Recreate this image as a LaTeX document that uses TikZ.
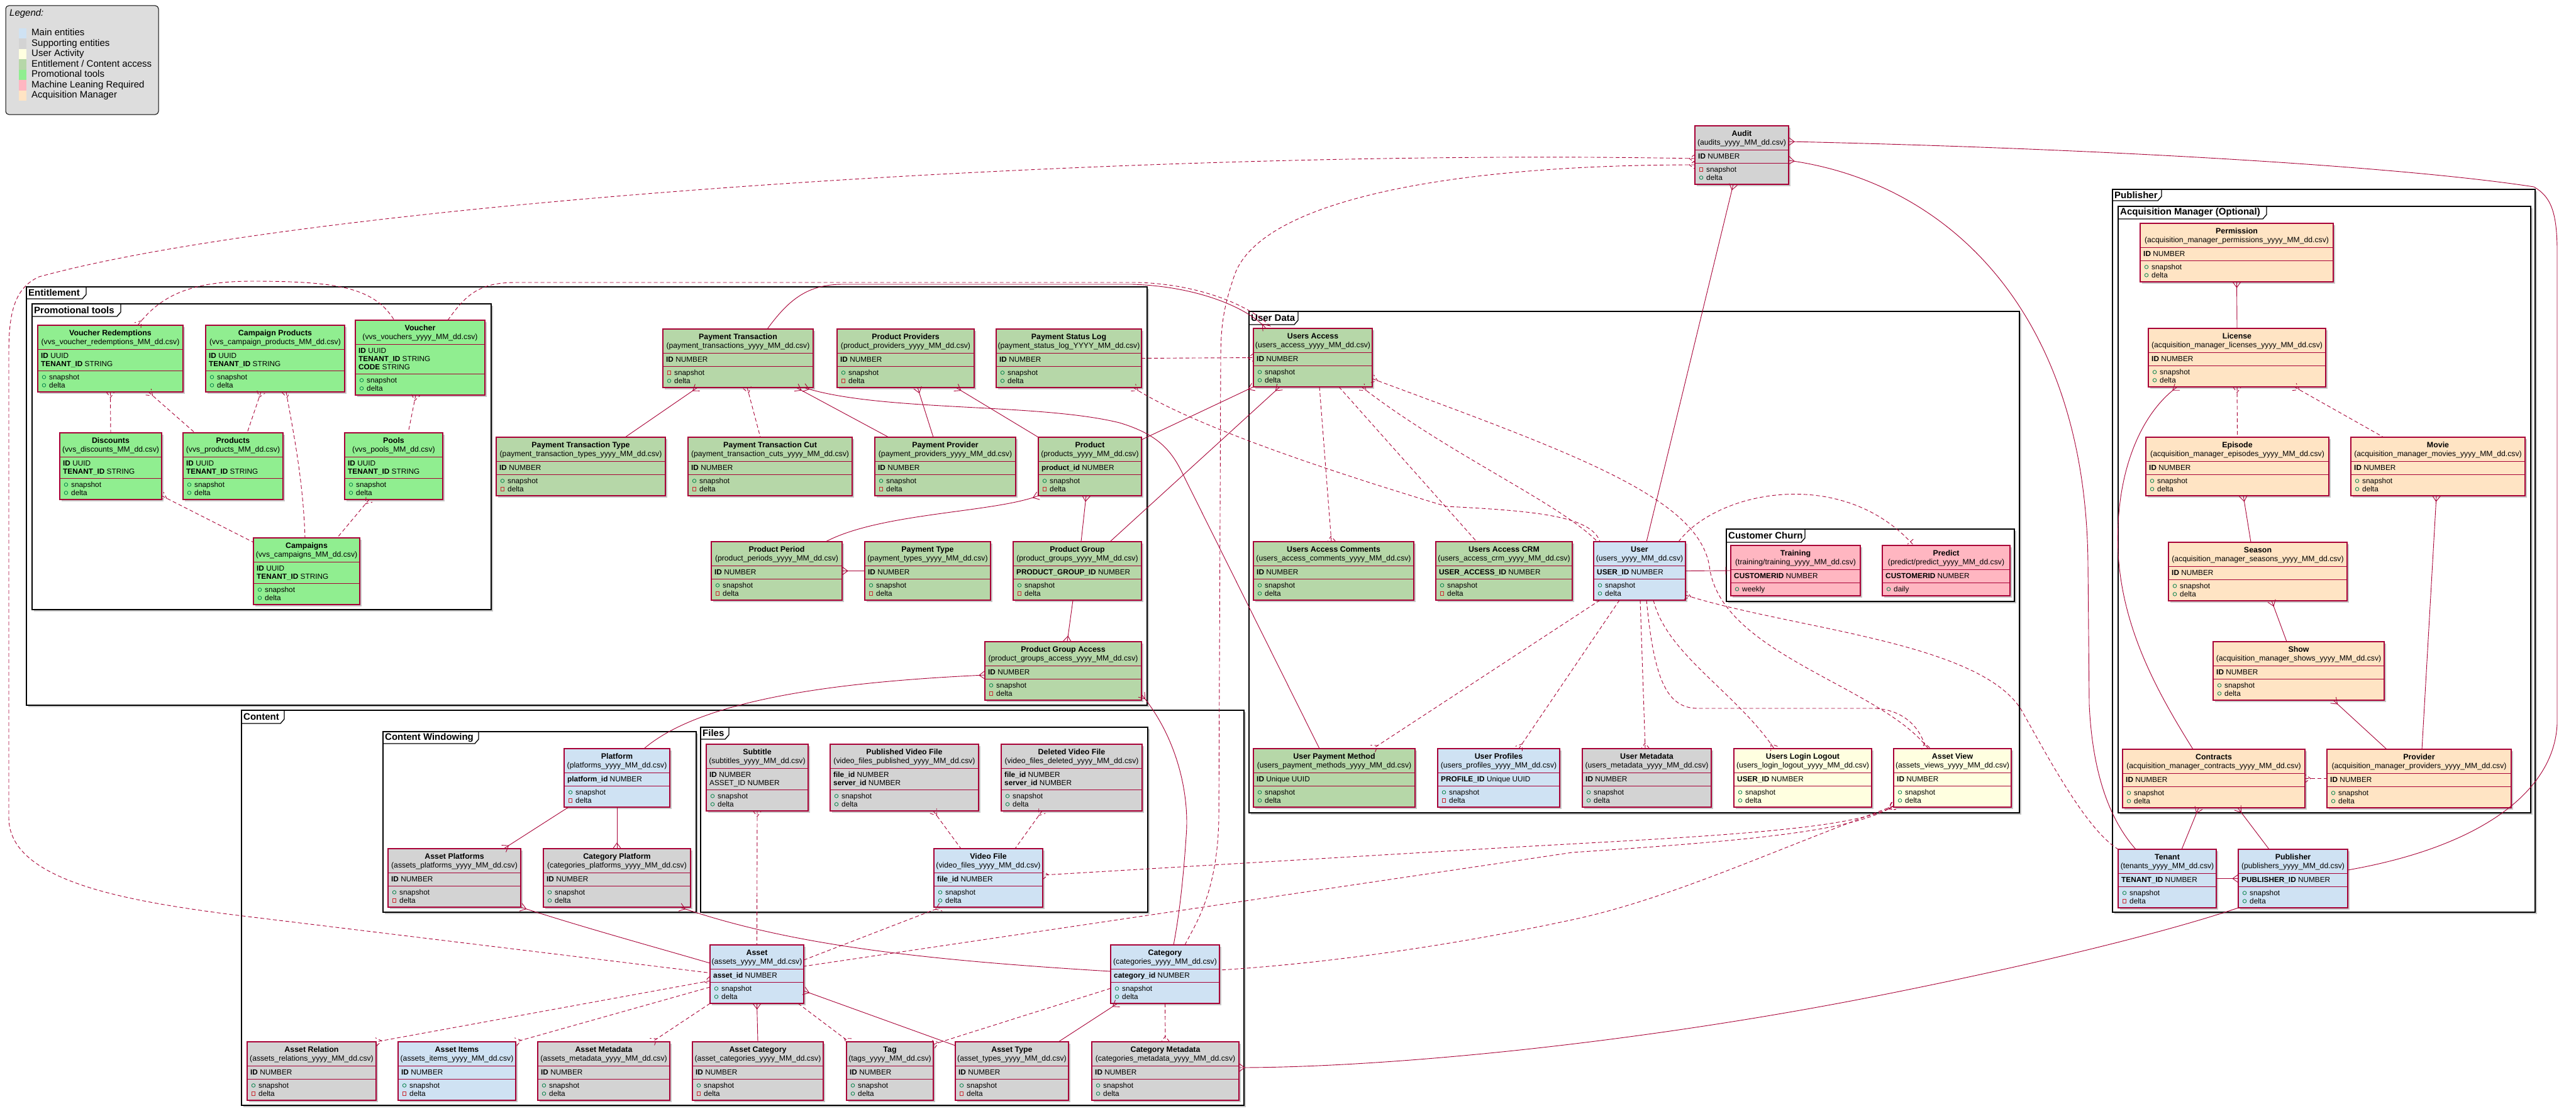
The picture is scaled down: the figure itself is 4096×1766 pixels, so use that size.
\documentclass[tikz,border=0pt]{standalone}
\usepackage{fontspec}
\setmainfont{Liberation Sans}
\usetikzlibrary{arrows.meta,shadows}

\definecolor{crim}{HTML}{A80036}
\definecolor{mainb}{HTML}{CFE2F3}
\definecolor{supg}{HTML}{D3D3D3}
\definecolor{usery}{HTML}{FFFFE0}
\definecolor{entg}{HTML}{B6D7A8}
\definecolor{promo}{HTML}{90EE90}
\definecolor{mlp}{HTML}{FFB6C1}
\definecolor{acqb}{HTML}{FFE4C4}
\definecolor{icg}{HTML}{038048}
\definecolor{icr}{HTML}{C82930}
\definecolor{leggray}{HTML}{DDDDDD}

\newcommand\entTitleFont{\fontsize{12.4}{14}\selectfont\bfseries}
\newcommand\entSubFont{\fontsize{12.2}{14}\selectfont}
\newcommand\entRowFont{\fontsize{11.8}{13}\selectfont}
\newcommand\frameFont{\fontsize{15}{18}\selectfont\bfseries}
\newcommand\legFont{\fontsize{15}{18}\selectfont}

\pgfdeclarearrow{
  name = Crow,
  setup code = {
    \pgfarrowssettipend{0pt}
    \pgfarrowssetlineend{0pt}
    \pgfarrowssetbackend{-9pt}
    \pgfarrowshullpoint{0pt}{6.5pt}
    \pgfarrowshullpoint{0pt}{-6.5pt}
    \pgfarrowshullpoint{-9pt}{0pt}
  },
  drawing code = {
    \pgfpathmoveto{\pgfqpoint{0pt}{6.5pt}}
    \pgfpathlineto{\pgfqpoint{-9pt}{0pt}}
    \pgfpathlineto{\pgfqpoint{0pt}{-6.5pt}}
    \pgfusepathqstroke
  }
}
\pgfdeclarearrow{
  name = One,
  setup code = {
    \pgfarrowssettipend{0pt}
    \pgfarrowssetlineend{0pt}
    \pgfarrowssetbackend{-9pt}
    \pgfarrowshullpoint{0pt}{6pt}
    \pgfarrowshullpoint{-9pt}{-6pt}
  },
  drawing code = {
    \pgfpathmoveto{\pgfqpoint{-8pt}{6pt}}
    \pgfpathlineto{\pgfqpoint{-8pt}{-6pt}}
    \pgfusepathqstroke
  }
}

\tikzset{
  ebox/.style={draw=crim, line width=1.3pt, inner sep=0pt, outer sep=0pt, rectangle,
    drop shadow={shadow xshift=3pt, shadow yshift=-3pt, opacity=0.3, fill=black!70}},
  eline/.style={draw=crim, line width=1pt},
  etitle/.style={inner sep=0pt, font=\entTitleFont},
  esub/.style={inner sep=0pt, font=\entSubFont},
  erow/.style={inner sep=0pt, font=\entRowFont},
  conn/.style={draw=crim, line width=0.9pt},
  connd/.style={conn, dash pattern=on 6pt off 4pt},
  frm/.style={draw=black, line width=1.6pt, fill=white,
    drop shadow={shadow xshift=3pt, shadow yshift=-3pt, opacity=0.3, fill=black!70}},
  ftab/.style={draw=black, line width=1.3pt},
  flabel/.style={inner sep=0pt, font=\frameFont},
  leg/.style={inner sep=0pt, font=\legFont, text height=11pt, text depth=3pt}
}

% entity: name, fill, x, y, width, #keys, #methods, title, subtitle
\newcommand\ent[9]{%
  \pgfmathsetmacro\entH{54+13*(#6+#7)}%
  \pgfmathsetmacro\entD{-(46+13*#6)}%
  \node[ebox,fill=#2,minimum width=#5pt,minimum height=\entH pt,anchor=north west] (#1) at (#3,#4) {};
  \draw[eline] ([yshift=-38pt]#1.north west) -- ([yshift=-38pt]#1.north east);
  \draw[eline] ([yshift=\entD pt]#1.north west) -- ([yshift=\entD pt]#1.north east);
  \node[etitle,anchor=base] (#1-t) at ([yshift=-16.5pt]#1.north) {#8};
  \node[esub,anchor=base] (#1-s) at ([yshift=-30.5pt]#1.north) {#9};
}
\newcommand\keyl[3]{%
  \pgfmathsetmacro\keyY{-(52+13*(#2-1))}%
  \node[erow,anchor=base west] (#1-k#2) at ([xshift=5pt,yshift=\keyY pt]#1.north west) {#3};
}
\newcommand\metO[3]{%
  \pgfmathsetmacro\metY{7+13*#2}%
  \pgfmathsetmacro\metYi{\metY+3.6}%
  \draw[icg,line width=0.8pt] ([xshift=10pt,yshift=\metYi pt]#1.south west) circle[radius=2.8pt];
  \node[erow,anchor=base west] (#1-m#2) at ([xshift=18pt,yshift=\metY pt]#1.south west) {#3};
}
\newcommand\metS[3]{%
  \pgfmathsetmacro\metY{7+13*#2}%
  \pgfmathsetmacro\metYa{\metY+1}%
  \pgfmathsetmacro\metYb{\metY+6.2}%
  \draw[icr,line width=0.8pt] ([xshift=7.4pt,yshift=\metYa pt]#1.south west) rectangle ([xshift=12.6pt,yshift=\metYb pt]#1.south west);
  \node[erow,anchor=base west] (#1-m#2) at ([xshift=18pt,yshift=\metY pt]#1.south west) {#3};
}
\newcommand\sd[3]{\csname met#2\endcsname{#1}{1}{snapshot}\csname met#3\endcsname{#1}{0}{delta}}

% frame: name, x1, y1, x2, y2, tab w, tab h, label
\newcommand\frameBox[8]{%
  \path[frm] (#2,#3) rectangle (#4,#5);
  \draw[ftab] (#2,#3+#7) -- (#2+#6-6,#3+#7) -- (#2+#6,#3+#7-7) -- (#2+#6,#3);
  \node[flabel,anchor=west] (#1) at (#2+3,#3+#7/2) {#8};
}

\begin{document}
\begin{tikzpicture}[x=1pt,y=-1pt]
\useasboundingbox (0,0) rectangle (4096,1766);
\fill[white] (0,0) rectangle (4096,1766);

% ---------------- Legend
\draw[black,line width=1pt,fill=leggray,rounded corners=5pt] (9,9) rectangle (252,182);
\node[leg,anchor=west,font=\legFont\itshape] (legT) at (15,22) {Legend:};
\fill[mainb]  (30,44.7)  rectangle (42,61.2);
\fill[supg]   (30,61.2)  rectangle (42,77.7);
\fill[usery]  (30,77.7)  rectangle (42,94.2);
\fill[entg]   (30,94.2)  rectangle (42,110.7);
\fill[promo]  (30,110.7) rectangle (42,127.2);
\fill[mlp]    (30,127.2) rectangle (42,143.7);
\fill[acqb]   (30,143.7) rectangle (42,160.2);
\node[leg,anchor=west] (lg1) at (50,53)    {Main entities};
\node[leg,anchor=west] (lg2) at (50,69.5)  {Supporting entities};
\node[leg,anchor=west] (lg3) at (50,86)    {User Activity};
\node[leg,anchor=west] (lg4) at (50,102.5) {Entitlement / Content access};
\node[leg,anchor=west] (lg5) at (50,119)   {Promotional tools};
\node[leg,anchor=west] (lg6) at (50,135.5) {Machine Leaning Required};
\node[leg,anchor=west] (lg7) at (50,152)   {Acquisition Manager};

% ---------------- Frames
\frameBox{fEnt}{42}{456}{1824}{1121}{95}{19}{Entitlement}
\frameBox{fPromo}{51}{483}{781}{969}{141}{20}{Promotional tools}
\frameBox{fUser}{1986}{495}{3211}{1292}{78}{21}{User Data}
\frameBox{fChurn}{2745}{841}{3203}{956}{125}{21}{Customer Churn}
\frameBox{fPub}{3359}{301}{4031}{1450}{78}{18}{Publisher}
\frameBox{fAcq}{3368}{328}{4024}{1292}{236}{20}{Acquisition Manager (Optional)}
\frameBox{fCont}{384}{1129}{1978}{1757}{68}{21}{Content}
\frameBox{fWin}{609}{1163}{1107}{1450}{152}{19}{Content Windowing}
\frameBox{fFiles}{1114}{1156}{1825}{1450}{45}{19}{Files}

% ---------------- Promotional tools
\ent{vr}{promo}{60}{517}{231}{2}{2}{Voucher Redemptions}{(vvs\_voucher\_redemptions\_MM\_dd.csv)}
\keyl{vr}{1}{\textbf{ID} UUID}\keyl{vr}{2}{\textbf{TENANT\_ID} STRING}\sd{vr}{O}{O}
\ent{cp}{promo}{327}{517}{221}{2}{2}{Campaign Products}{(vvs\_campaign\_products\_MM\_dd.csv)}
\keyl{cp}{1}{\textbf{ID} UUID}\keyl{cp}{2}{\textbf{TENANT\_ID} STRING}\sd{cp}{O}{O}
\ent{vo}{promo}{565}{509}{206}{3}{2}{Voucher}{(vvs\_vouchers\_yyyy\_MM\_dd.csv)}
\keyl{vo}{1}{\textbf{ID} UUID}\keyl{vo}{2}{\textbf{TENANT\_ID} STRING}\keyl{vo}{3}{\textbf{CODE} STRING}\sd{vo}{O}{O}
\ent{di}{promo}{95}{688}{162}{2}{2}{Discounts}{(vvs\_discounts\_MM\_dd.csv)}
\keyl{di}{1}{\textbf{ID} UUID}\keyl{di}{2}{\textbf{TENANT\_ID} STRING}\sd{di}{O}{O}
\ent{pr}{promo}{291}{688}{159}{2}{2}{Products}{(vvs\_products\_MM\_dd.csv)}
\keyl{pr}{1}{\textbf{ID} UUID}\keyl{pr}{2}{\textbf{TENANT\_ID} STRING}\sd{pr}{O}{O}
\ent{po}{promo}{548}{688}{156}{2}{2}{Pools}{(vvs\_pools\_MM\_dd.csv)}
\keyl{po}{1}{\textbf{ID} UUID}\keyl{po}{2}{\textbf{TENANT\_ID} STRING}\sd{po}{O}{O}
\ent{ca}{promo}{403}{855}{169}{2}{2}{Campaigns}{(vvs\_campaigns\_MM\_dd.csv)}
\keyl{ca}{1}{\textbf{ID} UUID}\keyl{ca}{2}{\textbf{TENANT\_ID} STRING}\sd{ca}{O}{O}

% ---------------- Entitlement
\ent{ptx}{entg}{1054}{523}{239}{1}{2}{Payment Transaction}{(payment\_transactions\_yyyy\_MM\_dd.csv)}
\keyl{ptx}{1}{\textbf{ID} NUMBER}\sd{ptx}{S}{O}
\ent{pps}{entg}{1331}{523}{218}{1}{2}{Product Providers}{(product\_providers\_yyyy\_MM\_dd.csv)}
\keyl{pps}{1}{\textbf{ID} NUMBER}\sd{pps}{O}{S}
\ent{psl}{entg}{1584}{523}{231}{1}{2}{Payment Status Log}{(payment\_status\_log\_YYYY\_MM\_dd.csv)}
\keyl{psl}{1}{\textbf{ID} NUMBER}\sd{psl}{O}{O}
\ent{ptt}{entg}{789}{695}{269}{1}{2}{Payment Transaction Type}{(payment\_transaction\_types\_yyyy\_MM\_dd.csv)}
\keyl{ptt}{1}{\textbf{ID} NUMBER}\sd{ptt}{O}{S}
\ent{ptc}{entg}{1094}{695}{261}{1}{2}{Payment Transaction Cut}{(payment\_transaction\_cuts\_yyyy\_MM\_dd.csv)}
\keyl{ptc}{1}{\textbf{ID} NUMBER}\sd{ptc}{O}{S}
\ent{ppv}{entg}{1391}{695}{224}{1}{2}{Payment Provider}{(payment\_providers\_yyyy\_MM\_dd.csv)}
\keyl{ppv}{1}{\textbf{ID} NUMBER}\sd{ppv}{O}{S}
\ent{prd}{entg}{1651}{695}{164}{1}{2}{Product}{(products\_yyyy\_MM\_dd.csv)}
\keyl{prd}{1}{\textbf{product\_id} NUMBER}\sd{prd}{O}{S}
\ent{ppe}{entg}{1131}{861}{208}{1}{2}{Product Period}{(product\_periods\_yyyy\_MM\_dd.csv)}
\keyl{ppe}{1}{\textbf{ID} NUMBER}\sd{ppe}{O}{S}
\ent{pty}{entg}{1375}{861}{200}{1}{2}{Payment Type}{(payment\_types\_yyyy\_MM\_dd.csv)}
\keyl{pty}{1}{\textbf{ID} NUMBER}\sd{pty}{O}{S}
\ent{pg}{entg}{1611}{861}{204}{1}{2}{Product Group}{(product\_groups\_yyyy\_MM\_dd.csv)}
\keyl{pg}{1}{\textbf{PRODUCT\_GROUP\_ID} NUMBER}\sd{pg}{O}{S}
\ent{pga}{entg}{1566}{1020}{249}{1}{2}{Product Group Access}{(product\_groups\_access\_yyyy\_MM\_dd.csv)}
\keyl{pga}{1}{\textbf{ID} NUMBER}\sd{pga}{O}{S}

% ---------------- Audit
\ent{au}{supg}{2695}{200}{149}{1}{2}{Audit}{(audits\_yyyy\_MM\_dd.csv)}
\keyl{au}{1}{\textbf{ID} NUMBER}\sd{au}{S}{O}

% ---------------- User Data
\ent{ua}{entg}{1993}{522}{189}{1}{2}{Users Access}{(users\_access\_yyyy\_MM\_dd.csv)}
\keyl{ua}{1}{\textbf{ID} NUMBER}\sd{ua}{O}{O}
\ent{uac}{entg}{1993}{861}{255}{1}{2}{Users Access Comments}{(users\_access\_comments\_yyyy\_MM\_dd.csv)}
\keyl{uac}{1}{\textbf{ID} NUMBER}\sd{uac}{O}{O}
\ent{uacrm}{entg}{2283}{861}{217}{1}{2}{Users Access CRM}{(users\_access\_crm\_yyyy\_MM\_dd.csv)}
\keyl{uacrm}{1}{\textbf{USER\_ACCESS\_ID} NUMBER}\sd{uacrm}{O}{S}
\ent{us}{mainb}{2534}{861}{146}{1}{2}{User}{(users\_yyyy\_MM\_dd.csv)}
\keyl{us}{1}{\textbf{USER\_ID} NUMBER}\sd{us}{O}{O}
\ent{tr}{mlp}{2752}{867}{206}{1}{1}{Training}{(training/training\_yyyy\_MM\_dd.csv)}
\keyl{tr}{1}{\textbf{CUSTOMERID} NUMBER}\metO{tr}{0}{weekly}
\ent{pd}{mlp}{2993}{867}{203}{1}{1}{Predict}{(predict/predict\_yyyy\_MM\_dd.csv)}
\keyl{pd}{1}{\textbf{CUSTOMERID} NUMBER}\metO{pd}{0}{daily}
\ent{upm}{entg}{1993}{1190}{257}{1}{2}{User Payment Method}{(users\_payment\_methods\_yyyy\_MM\_dd.csv)}
\keyl{upm}{1}{\textbf{ID} Unique UUID}\sd{upm}{O}{O}
\ent{upr}{mainb}{2286}{1190}{194}{1}{2}{User Profiles}{(users\_profiles\_yyyy\_MM\_dd.csv)}
\keyl{upr}{1}{\textbf{PROFILE\_ID} Unique UUID}\sd{upr}{O}{S}
\ent{umd}{supg}{2516}{1190}{205}{1}{2}{User Metadata}{(users\_metadata\_yyyy\_MM\_dd.csv)}
\keyl{umd}{1}{\textbf{ID} NUMBER}\sd{umd}{O}{O}
\ent{ull}{usery}{2757}{1190}{219}{1}{2}{Users Login Logout}{(users\_login\_logout\_yyyy\_MM\_dd.csv)}
\keyl{ull}{1}{\textbf{USER\_ID} NUMBER}\sd{ull}{O}{O}
\ent{av}{usery}{3011}{1190}{187}{1}{2}{Asset View}{(assets\_views\_yyyy\_MM\_dd.csv)}
\keyl{av}{1}{\textbf{ID} NUMBER}\sd{av}{O}{O}

% ---------------- Publisher
\ent{pm}{acqb}{3403}{355}{307}{1}{2}{Permission}{(acquisition\_manager\_permissions\_yyyy\_MM\_dd.csv)}
\keyl{pm}{1}{\textbf{ID} NUMBER}\sd{pm}{O}{O}
\ent{li}{acqb}{3416}{522}{282}{1}{2}{License}{(acquisition\_manager\_licenses\_yyyy\_MM\_dd.csv)}
\keyl{li}{1}{\textbf{ID} NUMBER}\sd{li}{O}{O}
\ent{ep}{acqb}{3412}{695}{291}{1}{2}{Episode}{(acquisition\_manager\_episodes\_yyyy\_MM\_dd.csv)}
\keyl{ep}{1}{\textbf{ID} NUMBER}\sd{ep}{O}{O}
\ent{mo}{acqb}{3738}{695}{277}{1}{2}{Movie}{(acquisition\_manager\_movies\_yyyy\_MM\_dd.csv)}
\keyl{mo}{1}{\textbf{ID} NUMBER}\sd{mo}{O}{O}
\ent{se}{acqb}{3448}{862}{284}{1}{2}{Season}{(acquisition\_manager\_seasons\_yyyy\_MM\_dd.csv)}
\keyl{se}{1}{\textbf{ID} NUMBER}\sd{se}{O}{O}
\ent{sh}{acqb}{3519}{1020}{272}{1}{2}{Show}{(acquisition\_manager\_shows\_yyyy\_MM\_dd.csv)}
\keyl{sh}{1}{\textbf{ID} NUMBER}\sd{sh}{O}{O}
\ent{con}{acqb}{3375}{1191}{290}{1}{2}{Contracts}{(acquisition\_manager\_contracts\_yyyy\_MM\_dd.csv)}
\keyl{con}{1}{\textbf{ID} NUMBER}\sd{con}{O}{O}
\ent{pv}{acqb}{3700}{1191}{293}{1}{2}{Provider}{(acquisition\_manager\_providers\_yyyy\_MM\_dd.csv)}
\keyl{pv}{1}{\textbf{ID} NUMBER}\sd{pv}{O}{O}
\ent{te}{mainb}{3368}{1350}{156}{1}{2}{Tenant}{(tenants\_yyyy\_MM\_dd.csv)}
\keyl{te}{1}{\textbf{TENANT\_ID} NUMBER}\sd{te}{O}{S}
\ent{pu}{mainb}{3559}{1350}{174}{1}{2}{Publisher}{(publishers\_yyyy\_MM\_dd.csv)}
\keyl{pu}{1}{\textbf{PUBLISHER\_ID} NUMBER}\sd{pu}{O}{O}

% ---------------- Content
\ent{pl}{mainb}{897}{1190}{168}{1}{2}{Platform}{(platforms\_yyyy\_MM\_dd.csv)}
\keyl{pl}{1}{\textbf{platform\_id} NUMBER}\sd{pl}{O}{S}
\ent{ap}{supg}{617}{1349}{211}{1}{2}{Asset Platforms}{(assets\_platforms\_yyyy\_MM\_dd.csv)}
\keyl{ap}{1}{\textbf{ID} NUMBER}\sd{ap}{O}{S}
\ent{cpl}{supg}{864}{1349}{234}{1}{2}{Category Platform}{(categories\_platforms\_yyyy\_MM\_dd.csv)}
\keyl{cpl}{1}{\textbf{ID} NUMBER}\sd{cpl}{O}{O}
\ent{st}{supg}{1123}{1183}{162}{2}{2}{Subtitle}{(subtitles\_yyyy\_MM\_dd.csv)}
\keyl{st}{1}{\textbf{ID} NUMBER}\keyl{st}{2}{ASSET\_ID NUMBER}\sd{st}{O}{O}
\ent{pvf}{supg}{1320}{1183}{236}{2}{2}{Published Video File}{(video\_files\_published\_yyyy\_MM\_dd.csv)}
\keyl{pvf}{1}{\textbf{file\_id} NUMBER}\keyl{pvf}{2}{\textbf{server\_id} NUMBER}\sd{pvf}{O}{O}
\ent{dvf}{supg}{1592}{1183}{224}{2}{2}{Deleted Video File}{(video\_files\_deleted\_yyyy\_MM\_dd.csv)}
\keyl{dvf}{1}{\textbf{file\_id} NUMBER}\keyl{dvf}{2}{\textbf{server\_id} NUMBER}\sd{dvf}{O}{O}
\ent{vf}{mainb}{1485}{1349}{173}{1}{2}{Video File}{(video\_files\_yyyy\_MM\_dd.csv)}
\keyl{vf}{1}{\textbf{file\_id} NUMBER}\sd{vf}{O}{O}
\ent{ast}{mainb}{1129}{1502}{149}{1}{2}{Asset}{(assets\_yyyy\_MM\_dd.csv)}
\keyl{ast}{1}{\textbf{asset\_id} NUMBER}\sd{ast}{O}{O}
\ent{cat}{mainb}{1766}{1502}{173}{1}{2}{Category}{(categories\_yyyy\_MM\_dd.csv)}
\keyl{cat}{1}{\textbf{category\_id} NUMBER}\sd{cat}{O}{O}
\ent{ar}{supg}{393}{1656}{205}{1}{2}{Asset Relation}{(assets\_relations\_yyyy\_MM\_dd.csv)}
\keyl{ar}{1}{\textbf{ID} NUMBER}\sd{ar}{O}{S}
\ent{ai}{mainb}{633}{1656}{187}{1}{2}{Asset Items}{(assets\_items\_yyyy\_MM\_dd.csv)}
\keyl{ai}{1}{\textbf{ID} NUMBER}\sd{ai}{O}{S}
\ent{am}{supg}{855}{1656}{210}{1}{2}{Asset Metadata}{(assets\_metadata\_yyyy\_MM\_dd.csv)}
\keyl{am}{1}{\textbf{ID} NUMBER}\sd{am}{O}{O}
\ent{acg}{supg}{1101}{1656}{208}{1}{2}{Asset Category}{(asset\_categories\_yyyy\_MM\_dd.csv)}
\keyl{acg}{1}{\textbf{ID} NUMBER}\sd{acg}{O}{S}
\ent{tg}{supg}{1346}{1656}{138}{1}{2}{Tag}{(tags\_yyyy\_MM\_dd.csv)}
\keyl{tg}{1}{\textbf{ID} NUMBER}\sd{tg}{O}{O}
\ent{aty}{supg}{1519}{1656}{180}{1}{2}{Asset Type}{(asset\_types\_yyyy\_MM\_dd.csv)}
\keyl{aty}{1}{\textbf{ID} NUMBER}\sd{aty}{O}{S}
\ent{cmd}{supg}{1736}{1656}{234}{1}{2}{Category Metadata}{(categories\_metadata\_yyyy\_MM\_dd.csv)}
\keyl{cmd}{1}{\textbf{ID} NUMBER}\sd{cmd}{O}{O}

% ================= Connectors
% promotional tools
\draw[connd,{Crow}-] (vr.south) -- (di.north);
\draw[connd,{Crow}-] ([xshift=176pt]vr.south west) -- ([xshift=19pt]pr.north west);
\draw[connd,{Crow}-] ([xshift=88pt]cp.south west) -- ([xshift=102pt]pr.north west);
\draw[connd,{Crow}-] ([xshift=128pt]cp.south west) .. controls (465,680) and (482,760) .. ([xshift=82pt]ca.north west);
\draw[connd,{Crow}-] ([xshift=96pt]vo.south west) -- ([xshift=101pt]po.north west);
\draw[connd,{Crow}-] ([xshift=39pt]po.south west) -- ([xshift=133pt]ca.north west);
\draw[connd,{Crow}-] ([yshift=6pt]di.south east) -- ([yshift=-7pt]ca.north west);
\draw[connd,{Crow}-] ([xshift=159pt]vr.north west) .. controls (250,478) and (290,447) .. (400,447) .. controls (540,447) and (595,458) .. ([xshift=62pt]vo.north west);
\draw[connd] ([xshift=147pt]vo.north west) .. controls (740,470) and (760,449) .. (820,449) -- (1800,449) .. controls (1900,449) and (1990,485) .. ([xshift=30pt]ua.north west);

% entitlement
\draw[conn,-{Crow}] ([xshift=166pt]ptx.north west) .. controls (1255,475) and (1285,452) .. (1340,452) -- (1800,452) .. controls (1905,455) and (1985,490) .. ([xshift=20pt]ua.north west);
\draw[conn,{Crow}-] ([xshift=55pt]ptx.south west) -- ([xshift=205pt]ptt.north west);
\draw[connd,{Crow}-] ([xshift=134pt]ptx.south west) -- ([xshift=115pt]ptc.north west);
\draw[conn,{Crow}-] ([xshift=212pt]ptx.south west) -- ([xshift=22pt]ppv.north west);
\draw[conn,{Crow}-] ([xshift=224pt]ptx.south west) .. controls (1400,655) and (1650,640) .. (1780,672) .. controls (1840,690) and (1862,715) .. (1880,752) -- ([xshift=105pt]upm.north west);
\draw[conn,{Crow}-] ([xshift=128pt]pps.south west) -- ([xshift=93pt]ppv.north west);
\draw[conn,{Crow}-] ([xshift=189pt]pps.south west) -- (prd.north west);
\draw[connd,-{Crow}] (psl.east) -- (ua.west);
\draw[connd,{Crow}-] ([xshift=218pt]psl.south west) .. controls (1900,680) and (2150,760) .. (2300,805) .. controls (2440,812) and (2530,820) .. ([xshift=10pt]us.north west);
\draw[conn,-{Crow}] ([yshift=-4pt]prd.north east) -- (ua.south west);
\draw[conn,{Crow}-] ([xshift=76pt]prd.south west) -- ([xshift=108pt]pg.north west);
\draw[conn,{Crow}-] (prd.south west) .. controls (1580,815) and (1400,815) .. ([xshift=182pt]ppe.north west);
\draw[conn,-{Crow}] (pty.west) -- (ppe.east);
\draw[conn,-{Crow}] ([xshift=154pt]pg.north west) -- ([xshift=42pt]ua.south west);
\draw[conn,-{Crow}] ([xshift=95pt]pg.south west) -- ([xshift=131pt]pga.north west);
\draw[conn,{Crow}-] ([yshift=-53pt]pga.north west) .. controls (1350,1083) and (1120,1108) .. ([xshift=127pt]pl.north west);
\draw[conn,{Crow}-] ([yshift=9pt]pga.south east) .. controls (1870,1170) and (1892,1260) .. (1886,1330) .. controls (1880,1420) and (1872,1470) .. ([xshift=100pt]cat.north west);

% audit
\draw[conn,{Crow}-] ([xshift=61pt]au.south west) -- ([xshift=84pt]us.north west);
\draw[connd,{Crow}-] ([yshift=-62pt]au.north west) .. controls (2300,262) and (2000,320) .. (1962,440) .. controls (1945,490) and (1941,520) .. (1941,570) -- (1938,1300) .. controls (1936,1420) and (1900,1470) .. ([xshift=118pt]cat.north west);
\draw[connd,{Crow}-] ([yshift=-52pt]au.north west) .. controls (1800,235) and (500,320) .. (62,440) .. controls (22,458) and (14,500) .. (14,560) -- (14,1300) .. controls (14,1400) and (200,1432) .. (370,1454) -- ([yshift=-44.5pt]ast.north west);
\draw[conn,{Crow}-] ([yshift=-25pt]au.north east) .. controls (3300,235) and (3800,262) .. (4029,297) .. controls (4055,312) and (4066,335) .. (4066,400) -- (4066,1150) .. controls (4062,1255) and (3950,1345) .. ([yshift=-33pt]pu.north east);
\draw[conn,{Crow}-] ([yshift=-55pt]au.north east) .. controls (3100,290) and (3318,500) .. (3320,900) -- (3322,1120) .. controls (3328,1250) and (3365,1315) .. ([xshift=28pt]te.north west);

% user data
\draw[connd,-{Crow}] ([xshift=105pt]ua.south west) -- ([xshift=124pt]uac.north west);
\draw[connd] ([xshift=136pt]ua.south west) -- ([xshift=65pt]uacrm.north west);
\draw[connd,{Crow}-] ([xshift=172pt]ua.south west) .. controls (2300,720) and (2480,800) .. ([xshift=6pt]us.north west);
\draw[connd,{Crow}-] ([yshift=13pt]ua.south east) .. controls (2500,720) and (2700,790) .. (2718,900) .. controls (2735,1040) and (2990,1090) .. ([xshift=55pt]av.north west);
\draw[connd,-{One}] ([xshift=135pt]us.north west) .. controls (2730,780) and (2930,740) .. ([xshift=50pt]pd.north west);
\draw[conn,-{One}] (us.east) -- (tr.west);
\draw[connd,-{Crow}] ([xshift=10pt]us.south west) -- ([xshift=190pt]upm.north west);
\draw[connd,-{Crow}] ([xshift=41pt]us.south west) -- ([xshift=129pt]upr.north west);
\draw[connd,-{Crow}] ([xshift=74pt]us.south west) -- ([xshift=100pt]umd.north west);
\draw[connd,-{Crow}] ([xshift=95pt]us.south west) .. controls (2650,1040) and (2760,1100) .. ([xshift=64pt]ull.north west);
\draw[connd,-{Crow}] ([xshift=84pt]us.south west) .. controls (2630,1080) and (2650,1126) .. (2700,1126) -- (2980,1126) .. controls (3030,1128) and (3055,1160) .. ([xshift=51pt]av.north west);
\draw[connd,{Crow}-] ([yshift=8pt]us.south east) .. controls (2850,1000) and (3150,1020) .. (3215,1130) .. controls (3265,1220) and (3320,1320) .. (te.north west);

% asset view
\draw[connd,{Crow}-{Crow}] ([yshift=2pt]av.south west) .. controls (2950,1320) and (2700,1330) .. (2400,1347) -- ([yshift=-42pt]vf.north east);
\draw[connd,{Crow}-] ([yshift=2pt]av.south west) .. controls (2950,1320) and (2800,1335) .. (2500,1355) -- ([yshift=-34pt]ast.north east);
\draw[connd,{Crow}-] ([yshift=2pt]av.south west) .. controls (2800,1360) and (2650,1430) .. (2500,1462) .. controls (2300,1505) and (2100,1532) .. ([yshift=-40pt]cat.north east);

% content
\draw[connd,{Crow}-] (st.south) -- (ast.north);
\draw[connd,{Crow}-] ([xshift=164pt]pvf.south west) -- ([xshift=43pt]vf.north west);
\draw[connd,{Crow}-] ([xshift=65pt]dvf.south west) -- ([xshift=129pt]vf.north west);
\draw[connd,-{Crow}] ([yshift=-24pt]ast.north east) -- ([xshift=11pt]vf.south west);
\draw[conn,-{Crow}] ([xshift=7pt]pl.south west) -- ([xshift=184pt]ap.north west);
\draw[conn,-{Crow}] (pl.south) -- (cpl.north);
\draw[conn,-{Crow}] ([yshift=-29pt]ast.north west) .. controls (1040,1505) and (930,1475) .. (ap.south east);
\draw[conn,-{Crow}] ([yshift=-42pt]cat.north west) .. controls (1450,1525) and (1250,1500) .. ([xshift=-17pt]cpl.south east);
\draw[connd,{Crow}-{Crow}] ([yshift=-57pt]ast.north west) -- (ar.north east);
\draw[connd,-{Crow}] ([yshift=-67pt]ast.north west) -- (ai.north east);
\draw[connd,-{Crow}] (ast.south west) -- ([xshift=182pt]am.north west);
\draw[conn,{Crow}-] (ast.south) -- (acg.north);
\draw[connd,-{Crow}] ([xshift=140pt]ast.south west) -- ([xshift=4pt]tg.north west);
\draw[conn,{Crow}-] ([yshift=-73pt]ast.north east) -- ([yshift=-6pt]aty.north west);
\draw[connd,-{Crow}] ([yshift=-69pt]cat.north west) -- ([yshift=-4pt]tg.north east);
\draw[conn,{Crow}-] ([xshift=11pt]cat.south west) -- ([xshift=164pt]aty.north west);
\draw[connd,-{Crow}] (cat.south) -- (cmd.north);
\draw[conn,-{Crow}] (pu.south west) .. controls (3450,1480) and (3250,1530) .. (3000,1580) .. controls (2600,1660) and (2200,1697) .. ([yshift=-41pt]cmd.north east);

% publisher
\draw[conn,{Crow}-] (pm.south) -- (li.north);
\draw[connd,{Crow}-] (li.south) -- (ep.north);
\draw[connd,{Crow}-] ([xshift=232pt]li.south west) -- ([xshift=52pt]mo.north west);
\draw[conn,{Crow}-] ([xshift=46pt]li.south west) .. controls (3400,660) and (3362,760) .. (3368,880) .. controls (3375,1000) and (3430,1100) .. ([xshift=112pt]con.north west);
\draw[conn,{Crow}-] ([xshift=155pt]ep.south west) -- ([xshift=131pt]se.north west);
\draw[conn,{Crow}-] ([xshift=164pt]se.south west) -- ([xshift=117pt]sh.north west);
\draw[conn,{Crow}-] ([xshift=191pt]sh.south west) -- ([xshift=95pt]pv.north west);
\draw[conn,{Crow}-] ([xshift=136pt]mo.south west) -- ([xshift=151pt]pv.north west);
\draw[connd,{Crow}-] (con.east) -- (pv.west);
\draw[conn,{Crow}-] ([xshift=121pt]con.south west) -- ([xshift=101pt]te.north west);
\draw[conn,{Crow}-] ([xshift=183pt]con.south west) -- ([xshift=49pt]pu.north west);
\draw[conn,-{Crow}] (te.east) -- (pu.west);

\end{tikzpicture}
\end{document}
